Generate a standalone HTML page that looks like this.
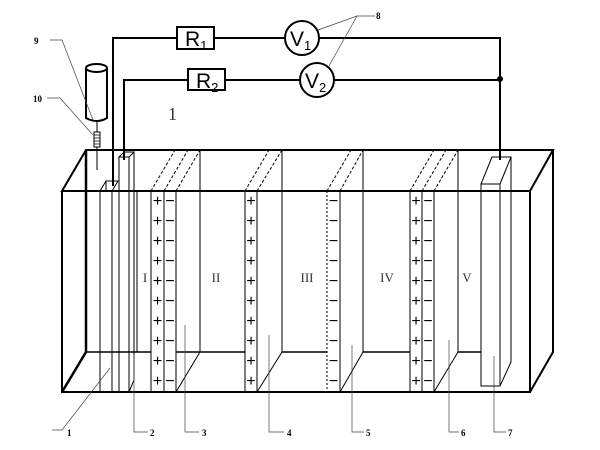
<!DOCTYPE html>
<html><head><meta charset="utf-8"><style>body{margin:0;background:#fff}svg{display:block}</style></head><body>
<svg width="600" height="450" viewBox="0 0 600 450" xmlns="http://www.w3.org/2000/svg" font-family="Liberation Serif, serif">
<g fill="none" stroke="#000">
<path d="M113 186 V38 H177 M214 38 H285 M319 38 H500 V160" stroke-width="2"/>
<path d="M124 160 V80 H188 M225 80 H300 M334 80 H500" stroke-width="2"/>
<rect x="177" y="27" width="37" height="22" stroke-width="2"/>
<rect x="188" y="69" width="37" height="21" stroke-width="2"/>
<circle cx="302" cy="38" r="17" stroke-width="2"/>
<circle cx="317" cy="80" r="17" stroke-width="2"/>
<path d="M318 30 L357 16 H375 M329 66 L357 16" stroke-width="0.7" stroke="#444"/>
<path d="M86 68 V118 Q97 124 107 118 V68" stroke-width="2"/>
<ellipse cx="96.5" cy="68" rx="10.5" ry="4" stroke-width="2"/>
<path d="M97 122 V132 M97 147 V170" stroke-width="1"/>
<rect x="94" y="132" width="6" height="15" stroke-width="1"/>
<path d="M94 135 H100 M94 138 H100 M94 141 H100 M94 144 H100" stroke-width="0.7"/>
<path d="M50 40 H62 L93 120 M47 98 H60 L93 135" stroke-width="0.7" stroke="#444"/>
<path d="M86 150 H553 L530 191 H62 Z M62 191 V392 H530 V191 M553 150 V352 L530 392" stroke-width="2"/>
<path d="M62 392 L86 352 V150" stroke-width="2.5"/>
<path d="M86 352 H151 M176 352 H245 M282 352 H327 M363 352 H410 M458 352 H481" stroke-width="1.5"/>
<path d="M100 191 V392 M112 191 V392 M100 191 L106 181 H118 L112 191 M106 181 V191" stroke-width="1"/>
<path d="M119 157 V392 M129 157 V392 M119 157 L124 152 H134 L129 157 Z M134 152 V380 L129 392 M137 191 V352 H151" stroke-width="1"/>
<g stroke-width="1">
<path d="M151 191 V392 M164 191 V392 M176 191 V392 M200 150 V352 M176 392 L200 352"/>
<path d="M151 191 L175 150 M164 191 L188 150 M176 191 L200 150" stroke-dasharray="3 2"/>
<path d="M245 191 V392 M257 191 V392 M282 150 V352 M257 392 L282 352"/>
<path d="M245 191 L269 150 M257 191 L282 150" stroke-dasharray="3 2"/>
<path d="M340 191 V392 M363 150 V352 M340 392 L363 352"/>
<path d="M327 191 V392" stroke-dasharray="2 2"/>
<path d="M327 191 L351 150 M340 191 L363 150" stroke-dasharray="3 2"/>
<path d="M410 191 V392 M422 191 V392 M434 191 V392 M458 150 V352 M434 392 L458 352"/>
<path d="M410 191 L434 150 M422 191 L446 150 M434 191 L458 150" stroke-dasharray="3 2"/>
<path d="M481 184 H500 V386 H481 Z M481 184 L492 157 H511 L500 184 M511 157 V362 L500 386"/>
</g>
<g stroke-width="0.7" stroke="#444">
<path d="M110 368 L62 430 H52"/>
<path d="M134 355 V432 H148 M185 325 V432 H199 M269 335 V432 H284 M352 345 V432 H364 M449 340 V432 H459 M494 356 V432 H506"/>
</g>
</g>
<g font-family="Liberation Sans, sans-serif" font-size="16" text-anchor="middle" fill="#000">
<g id="p"><text x="157.5" y="206">+</text><text x="157.5" y="226">+</text><text x="157.5" y="246">+</text><text x="157.5" y="266">+</text><text x="157.5" y="286">+</text><text x="157.5" y="306">+</text><text x="157.5" y="326">+</text><text x="157.5" y="346">+</text><text x="157.5" y="366">+</text><text x="157.5" y="386">+</text></g>
<g id="m"><text x="170" y="206">−</text><text x="170" y="226">−</text><text x="170" y="246">−</text><text x="170" y="266">−</text><text x="170" y="286">−</text><text x="170" y="306">−</text><text x="170" y="326">−</text><text x="170" y="346">−</text><text x="170" y="366">−</text><text x="170" y="386">−</text></g>
<use href="#p" x="93.5"/><use href="#m" x="163.5"/><use href="#p" x="258.5"/><use href="#m" x="258"/>
</g>
<g font-size="21" fill="#000" font-family="Liberation Sans, sans-serif">
<text x="185" y="46">R<tspan font-size="13" dy="4">1</tspan></text>
<text x="196" y="88">R<tspan font-size="13" dy="4">2</tspan></text>
<text x="290" y="46">V<tspan font-size="13" dy="4">1</tspan></text>
<text x="305" y="88">V<tspan font-size="13" dy="4">2</tspan></text>
</g>
<text x="168" y="120" font-size="18" fill="#333">1</text>
<g font-size="13" fill="#333" text-anchor="middle">
<text x="145" y="282">I</text><text x="216" y="282">II</text><text x="307" y="282">III</text><text x="387" y="282">IV</text><text x="467" y="282">V</text>
</g>
<g font-size="9" font-weight="bold" fill="#000">
<text x="34" y="44">9</text><text x="33" y="102">10</text><text x="376" y="19">8</text>
<text x="67" y="436">1</text><text x="150" y="436">2</text><text x="202" y="436">3</text><text x="287" y="436">4</text><text x="366" y="436">5</text><text x="461" y="436">6</text><text x="508" y="436">7</text>
</g>
<circle cx="500" cy="79" r="3" fill="#000"/>
</svg>
</body></html>
